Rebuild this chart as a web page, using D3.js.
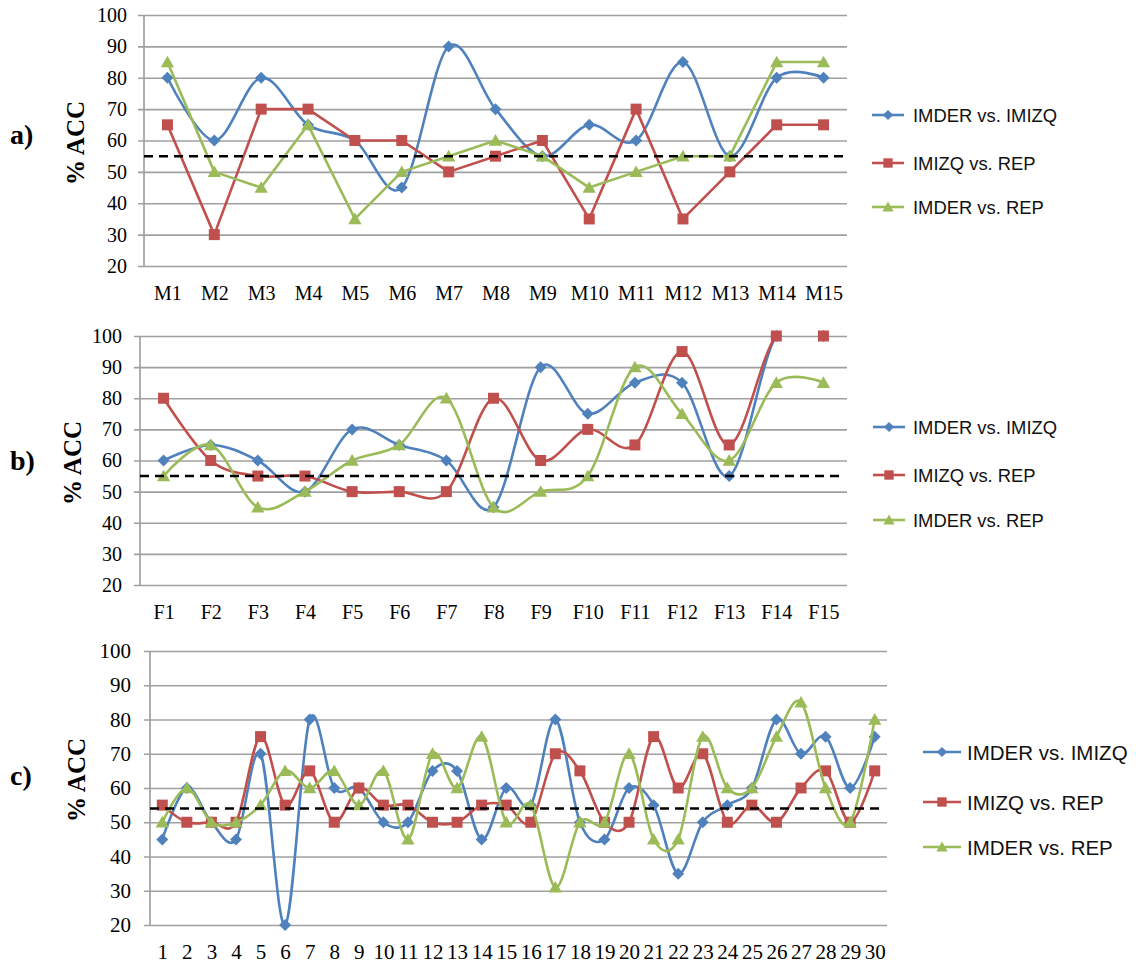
<!DOCTYPE html>
<html>
<head>
<meta charset="utf-8">
<script src="https://cdn.jsdelivr.net/npm/d3@7"></script>
<style>
  body { margin: 0; background: #fff; }
  svg { display: block; }
</style>
</head>
<body>
<svg id="chart" width="1136" height="964"></svg>
<script>
// ---- data ----
const seriesNames = ["IMDER vs. IMIZQ", "IMIZQ vs. REP", "IMDER vs. REP"];
const yTickValues = [20, 30, 40, 50, 60, 70, 80, 90, 100];

// panel a) : M1..M15
const catsA = ["M1","M2","M3","M4","M5","M6","M7","M8","M9","M10","M11","M12","M13","M14","M15"];
const imderImizqA = [80, 60, 80, 65, 60, 45, 90, 70, 55, 65, 60, 85, 55, 80, 80];
const imizqRepA   = [65, 30, 70, 70, 60, 60, 50, 55, 60, 35, 70, 35, 50, 65, 65];
const imderRepA   = [85, 50, 45, 65, 35, 50, 55, 60, 55, 45, 50, 55, 55, 85, 85];
const chanceA = 55;

// panel b) : F1..F15
const catsB = ["F1","F2","F3","F4","F5","F6","F7","F8","F9","F10","F11","F12","F13","F14","F15"];
const imderImizqB = [60, 65, 60, 50, 70, 65, 60, 45, 90, 75, 85, 85, 55, 100, 100];
const imizqRepB   = [80, 60, 55, 55, 50, 50, 50, 80, 60, 70, 65, 95, 65, 100, 100];
const imderRepB   = [55, 65, 45, 50, 60, 65, 80, 45, 50, 55, 90, 75, 60, 85, 85];
const chanceB = 55;

// panel c) : 1..30
const catsC = ["1","2","3","4","5","6","7","8","9","10","11","12","13","14","15",
               "16","17","18","19","20","21","22","23","24","25","26","27","28","29","30"];
const imderImizqC = [45, 60, 50, 45, 70, 20, 80, 60, 60, 50, 50, 65, 65, 45, 60,
                     55, 80, 50, 45, 60, 55, 35, 50, 55, 60, 80, 70, 75, 60, 75];
const imizqRepC   = [55, 50, 50, 50, 75, 55, 65, 50, 60, 55, 55, 50, 50, 55, 55,
                     50, 70, 65, 50, 50, 75, 60, 70, 50, 55, 50, 60, 65, 50, 65];
const imderRepC   = [50, 60, 50, 50, 55, 65, 60, 65, 55, 65, 45, 70, 60, 75, 50,
                     55, 31, 50, 50, 70, 45, 45, 75, 60, 60, 75, 85, 60, 50, 80];
const chanceC = 54;

// ---- styling ----
const colors = ["#4F81BD", "#C0504D", "#9BBB59"];
const gridColor = "#a0a0a0";
const serif = "'Liberation Serif', 'Times New Roman', serif";
const sans = "'Liberation Sans', Arial, sans-serif";

// marker shapes: diamond, square, triangle
function markerPath(kind, s) {
  if (kind === 0) return `M0,${-s}L${s},0L0,${s}L${-s},0Z`;
  if (kind === 1) return `M${-s},${-s}H${s}V${s}H${-s}Z`;
  return `M0,${-s * 1.1}L${s * 1.15},${s * 0.9}L${-s * 1.15},${s * 0.9}Z`;
}
const markerSize = [6, 5.5, 5.8];

const svg = d3.select("#chart");
const defs = svg.append("defs");

function drawPanel(p) {
  const g = svg.append("g");
  const x = d3.scalePoint().domain(p.cats).range([p.left, p.right]).padding(0.5);
  const y = d3.scaleLinear().domain([20, 100]).range([p.bottom, p.top]);

  // lines are clipped to the plot area; markers are not
  const clipId = "clip-" + p.id;
  defs.append("clipPath").attr("id", clipId)
    .append("rect")
    .attr("x", p.left).attr("y", p.top)
    .attr("width", p.right - p.left).attr("height", p.bottom - p.top);

  // horizontal gridlines + y tick labels
  const yAxis = d3.axisLeft(y)
    .tickValues(yTickValues)
    .tickSize(-(p.right - p.left + 6))
    .tickPadding(p.tickPad)
    .tickFormat(d3.format("d"));
  const ya = g.append("g")
    .attr("transform", `translate(${p.left - 6},0)`)
    .call(yAxis);
  ya.select(".domain").remove();
  ya.selectAll(".tick line").attr("stroke", gridColor).attr("stroke-width", 1.7);
  ya.selectAll(".tick text")
    .attr("fill", "#000")
    .style("font-family", serif)
    .style("font-size", p.tickFont + "px");

  // vertical axis line
  g.append("line")
    .attr("x1", p.left).attr("x2", p.left)
    .attr("y1", p.top).attr("y2", p.bottom)
    .attr("stroke", gridColor).attr("stroke-width", 1.7);

  // category labels
  const xAxis = d3.axisBottom(x).tickSize(0).tickPadding(0);
  const xa = g.append("g")
    .attr("transform", `translate(0,${p.bottom})`)
    .call(xAxis);
  xa.select(".domain").remove();
  xa.selectAll(".tick text")
    .attr("y", 27).attr("dy", null)
    .attr("dominant-baseline", "central")
    .attr("fill", "#000")
    .style("font-family", serif)
    .style("font-size", p.catFont + "px");

  // series lines and markers
  p.series.forEach((vals, i) => {
    const pts = vals.map((v, j) => [x(p.cats[j]), y(v)]);
    const line = d3.line().curve(p.smooth[i] ? d3.curveCatmullRom.alpha(0) : d3.curveLinear);
    g.append("path")
      .attr("d", line(pts))
      .attr("clip-path", `url(#${clipId})`)
      .attr("fill", "none")
      .attr("stroke", colors[i])
      .attr("stroke-width", 2.6)
      .attr("stroke-linejoin", "round");
    g.selectAll(null)
      .data(pts)
      .join("path")
      .attr("transform", d => `translate(${d[0]},${d[1]})`)
      .attr("d", markerPath(i, markerSize[i]))
      .attr("fill", colors[i]);
  });

  // chance level
  g.append("line")
    .attr("x1", p.left).attr("x2", p.right - 3)
    .attr("y1", y(p.chance)).attr("y2", y(p.chance))
    .attr("stroke", "#000")
    .attr("stroke-width", 2.6)
    .attr("stroke-dasharray", "9,6");

  // panel letter and y title
  g.append("text")
    .attr("x", 10).attr("y", p.letterY)
    .attr("dominant-baseline", "central")
    .style("font-family", serif).style("font-weight", "bold")
    .style("font-size", "28px")
    .text(p.letter);
  g.append("text")
    .attr("transform", `translate(${p.titleX},${p.titleY}) rotate(-90)`)
    .attr("text-anchor", "middle")
    .attr("dominant-baseline", "central")
    .style("font-family", serif).style("font-weight", "bold")
    .style("font-size", "25px")
    .text("% ACC");

  // legend
  const lg = g.append("g");
  seriesNames.forEach((name, i) => {
    const ly = p.legendY[i];
    lg.append("line")
      .attr("x1", p.legendX).attr("x2", p.legendX + p.legendLen)
      .attr("y1", ly).attr("y2", ly)
      .attr("stroke", colors[i]).attr("stroke-width", 2.6);
    lg.append("path")
      .attr("transform", `translate(${p.legendX + p.legendLen / 2},${ly})`)
      .attr("d", markerPath(i, markerSize[i] * 0.85))
      .attr("fill", colors[i]);
    lg.append("text")
      .attr("x", p.legendX + p.legendLen + p.legendGap)
      .attr("y", ly)
      .attr("dominant-baseline", "central")
      .style("font-family", sans)
      .style("font-size", p.legendFont + "px")
      .attr("fill", "#111")
      .text(name);
  });
}

drawPanel({
  id: "a", letter: "a)", cats: catsA, series: [imderImizqA, imizqRepA, imderRepA], chance: chanceA,
  smooth: [true, false, false],
  left: 144, right: 847, top: 15, bottom: 266,
  tickPad: 11, tickFont: 20, catFont: 20,
  letterY: 134, titleX: 75, titleY: 143,
  legendX: 872, legendLen: 32, legendGap: 9, legendFont: 18.4, legendY: [115, 163, 207]
});

drawPanel({
  id: "b", letter: "b)", cats: catsB, series: [imderImizqB, imizqRepB, imderRepB], chance: chanceB,
  smooth: [true, true, true],
  left: 140, right: 847, top: 336, bottom: 585,
  tickPad: 12, tickFont: 20, catFont: 20,
  letterY: 460, titleX: 72, titleY: 463,
  legendX: 873, legendLen: 32, legendGap: 8, legendFont: 18.4, legendY: [427, 475, 520]
});

drawPanel({
  id: "c", letter: "c)", cats: catsC, series: [imderImizqC, imizqRepC, imderRepC], chance: chanceC,
  smooth: [true, true, true],
  left: 150, right: 887, top: 651, bottom: 925,
  tickPad: 13, tickFont: 21, catFont: 21,
  letterY: 775, titleX: 76, titleY: 780,
  legendX: 923, legendLen: 38, legendGap: 6, legendFont: 20.5, legendY: [752, 802, 847]
});
</script>
</body>
</html>
